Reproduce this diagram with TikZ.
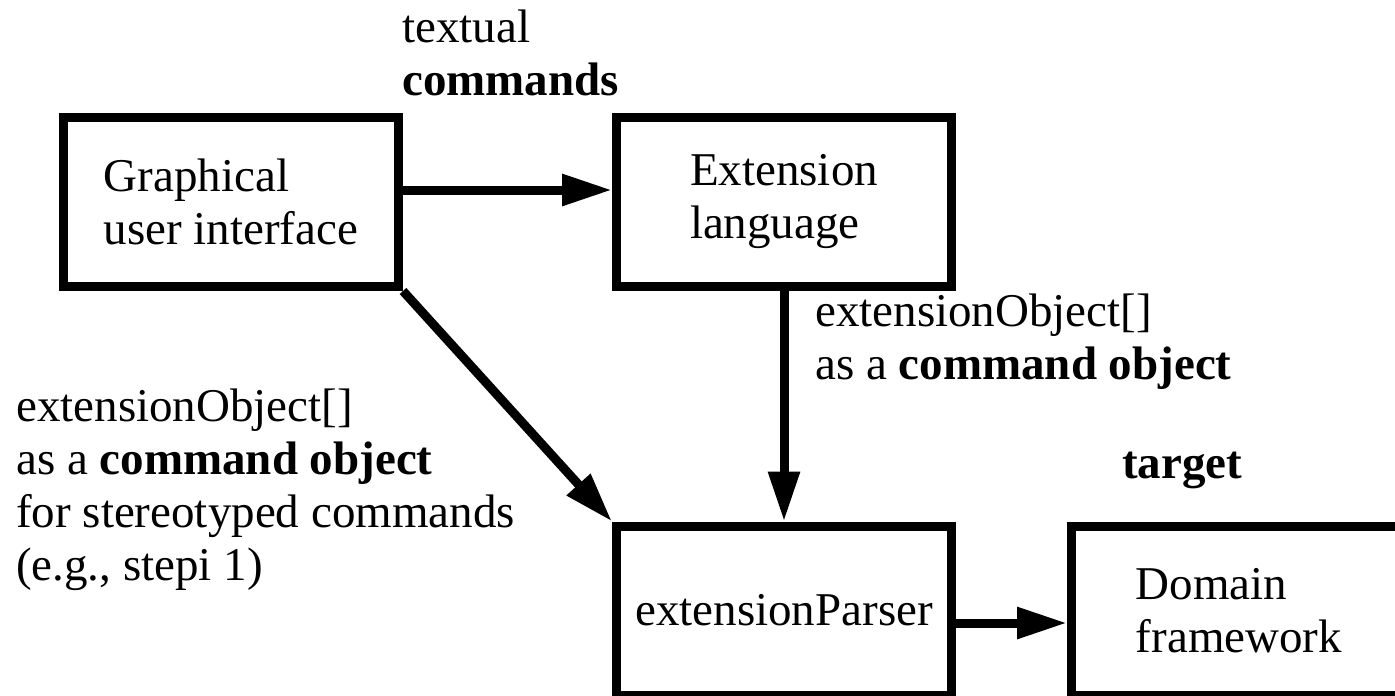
\documentclass[tikz,border=0pt]{standalone}
\usepackage{fontspec}
\setmainfont{Liberation Serif}
\usetikzlibrary{arrows.meta}
\newcommand\diagfont{\fontsize{47}{53}\selectfont}
\begin{document}
\begin{tikzpicture}[x=1pt,y=-1pt,
  box/.style={draw, line width=9pt, minimum width=335pt, minimum height=169pt,
    inner sep=0pt, align=left, font=\diagfont},
  flow/.style={line width=9pt, -{Triangle[length=50pt,width=30pt]}},
  lbl/.style={anchor=base west, inner sep=0pt, align=left, font=\diagfont}]
\useasboundingbox (0,0) rectangle (1395,696);
\fill[white] (0,0) rectangle (1395,696);
\clip (0,0) rectangle (1395,696);

% components
\node[box] (gui)    at (231,202)    {Graphical\\user interface};
\node[box] (ext)    at (784,202)    {Extension\\language};
\node[box] (parser) at (784,610.5)  {extensionParser};
\node[box] (domain) at (1239,610.5) {Domain\\framework};

% data flow
\draw[flow] ([yshift=12pt]gui.east) -- ([yshift=12pt]ext.west);
\draw[flow] (ext.south) -- (parser.north);
\draw[flow] (gui.south east) -- (parser.north west);
\draw[flow] ([yshift=-12.5pt]parser.east) -- ([yshift=-12.5pt]domain.west);

% annotations (anchored at the baseline of their last line)
\node[lbl] (cmdlbl) at (402,95) {textual\\\textbf{commands}};
\node[lbl] (extlbl) at (815,379) {extensionObject[]\\as a \textbf{command object}};
\node[lbl] (guilbl) at (16,580) {extensionObject[]\\as a \textbf{command object}\\for stereotyped commands\\(e.g., stepi 1)};
\node[lbl] (tgtlbl) at (1122,478) {\textbf{target}};
\end{tikzpicture}
\end{document}
